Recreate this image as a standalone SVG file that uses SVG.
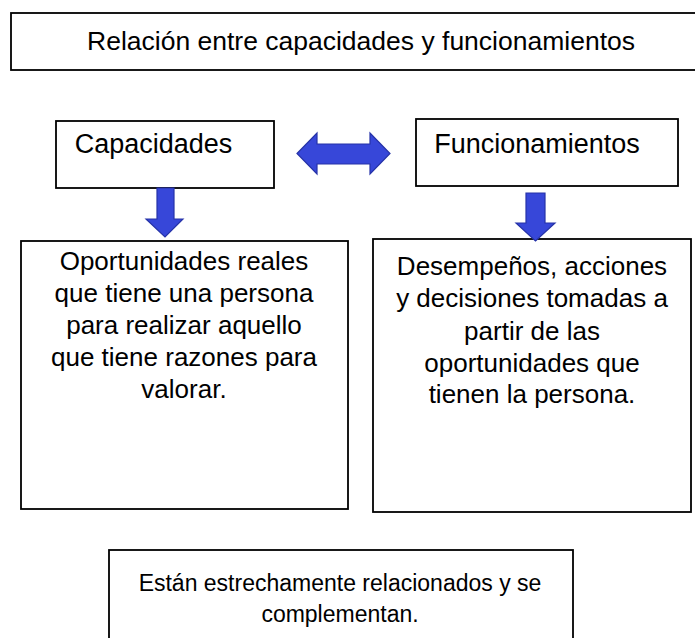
<svg xmlns="http://www.w3.org/2000/svg" width="695" height="638" viewBox="0 0 695 638">
<style>
.box{fill:#fff;stroke:#000;stroke-width:1.8}
.t{font-family:"Liberation Sans",Arial,sans-serif;font-size:26px;fill:#000;text-anchor:middle}
.h{font-size:27px}
.arr{fill:#3747d9;stroke:#2633a8;stroke-width:1.2;stroke-linejoin:miter}
</style>
<rect width="695" height="638" fill="#fff"/>
<g id="title">
<rect class="box" x="11" y="13" width="700" height="57"/>
<text class="t" x="361" y="50" style="font-size:26.5px">Relación entre capacidades y funcionamientos</text>
</g>
<g id="capacidades">
<rect class="box" x="56" y="121" width="218" height="67"/>
<text class="t h" x="153.5" y="153">Capacidades</text>
</g>
<g id="funcionamientos">
<rect class="box" x="416" y="119" width="262" height="67"/>
<text class="t h" x="537" y="153">Funcionamientos</text>
</g>
<g id="oportunidades">
<rect class="box" x="21" y="241" width="327" height="268"/>
<text class="t" x="184" y="270">Oportunidades reales</text>
<text class="t" x="184" y="302">que tiene una persona</text>
<text class="t" x="184" y="334">para realizar aquello</text>
<text class="t" x="184" y="366">que tiene razones para</text>
<text class="t" x="184" y="398">valorar.</text>
</g>
<g id="desempenos">
<rect class="box" x="373" y="239" width="318" height="273"/>
<text class="t" x="532" y="275">Desempeños, acciones</text>
<text class="t" x="532" y="307">y decisiones tomadas a</text>
<text class="t" x="532" y="340">partir de las</text>
<text class="t" x="532" y="372">oportunidades que</text>
<text class="t" x="532" y="403">tienen la persona.</text>
</g>
<g id="conclusion">
<rect class="box" x="109" y="550" width="464" height="100"/>
<text class="t" x="340" y="591" style="font-size:23px">Están estrechamente relacionados y se</text>
<text class="t" x="340" y="622" style="font-size:23px">complementan.</text>
</g>
<g id="connectors">
<polygon class="arr" points="297,153.5 317,133 317,144 370,144 370,133 390,153.5 370,174 370,164 317,164 317,174"/>
<polygon class="arr" points="157,188 174,188 174,219 183,219 165,237 146,219 157,219"/>
<polygon class="arr" points="526,193 545,193 545,223 555,223 535.5,241 516,223 526,223"/>
</g>
</svg>
